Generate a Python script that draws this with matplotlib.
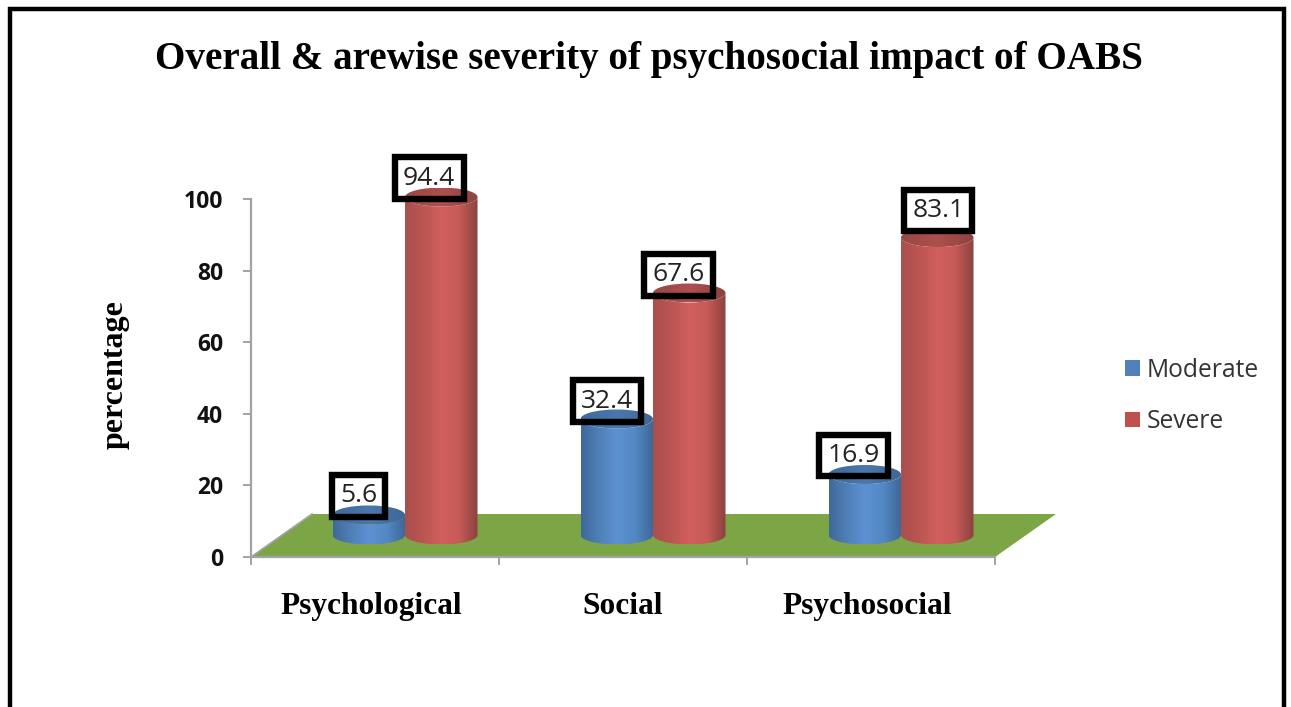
import numpy as np
import matplotlib
matplotlib.use("Agg")
import matplotlib.pyplot as plt
from matplotlib.colors import LinearSegmentedColormap
from matplotlib.patches import Patch, PathPatch, Polygon, Rectangle, Ellipse
from matplotlib.path import Path

categories = ["Psychological", "Social", "Psychosocial"]
moderate = [5.6, 32.4, 16.9]
severe = [94.4, 67.6, 83.1]
series_names = ["Moderate", "Severe"]
yticks = [0, 20, 40, 60, 80, 100]
title = "Overall & arewise severity of psychosocial impact of OABS"
ylabel = "percentage"

W, H = 1291, 707
fig = plt.figure(figsize=(W / 100, H / 100), dpi=100, facecolor="white")
ax = fig.add_axes([251 / W, 1 - 557 / H, 744 / W, 358 / H])
ax.set_xlim(-0.5, 2.5)
ax.set_ylim(0, 100)
ax.patch.set_visible(False)

PXX = 3 / 744   # data units per pixel
PXY = 100 / 358

GREY = "#a3a3a3"
for s in ("top", "right"):
    ax.spines[s].set_visible(False)
for s in ("left", "bottom"):
    ax.spines[s].set_color(GREY)
    ax.spines[s].set_linewidth(1.6)
ax.set_yticks(yticks)
ax.set_xticks([-0.5, 0.5, 1.5, 2.5])
ax.set_xticklabels([])
ax.tick_params(axis="both", color=GREY, width=1.4, length=6)
ax.tick_params(axis="y", pad=14)
for lab in ax.get_yticklabels():
    lab.set(fontfamily="Open Sans", fontweight="bold", fontsize=16.5, color="#111111")

for i, c in enumerate(categories):
    ax.annotate(c, (i, 0), xytext=(-3 if i != 1 else 0, -57 * 0.72), textcoords="offset points",
                ha="center", va="baseline", fontfamily="Liberation Serif",
                fontweight="bold", fontsize=22.6, color="black")

# floor
dx, dy = 61 * PXX, 43 * PXY
ax.add_patch(Polygon([(-0.5, 0), (2.5, 0), (2.5 + dx, dy), (-0.5 + dx, dy)], closed=True,
                     facecolor="#7ca646", edgecolor="none", clip_on=False, zorder=1))
ax.plot([-0.5, -0.5 + dx], [0, dy], color=GREY, lw=1.2, clip_on=False, zorder=1.1)

# cylinders
bar_w = 72.5 * PXX
shift = 30 * PXX
base = 22 * PXY
ry = 9.5 * PXY
blue = LinearSegmentedColormap.from_list("b", ["#41699a", "#4f80b8", "#5d92d2", "#5288c4", "#3f6694"])
red = LinearSegmentedColormap.from_list("r", ["#a94f4d", "#bb5553", "#d2605d", "#c65a57", "#8a4240"])
blue_top = LinearSegmentedColormap.from_list("bt", ["#3f6999", "#4a77ad", "#3d6796"])
red_top = LinearSegmentedColormap.from_list("rt", ["#984745", "#ad504e", "#8d4240"])
grad = np.linspace(0, 1, 128)[None, :]


def cylinder(xc, val, cmap, cmap_top, z):
    xl, xr = xc - bar_w / 2, xc + bar_w / 2
    y0, y1 = base, base + val
    t = np.linspace(np.pi, 2 * np.pi, 60)
    ex, ey = np.cos(t) * bar_w / 2, np.sin(t) * ry
    verts = np.vstack([np.c_[xc + ex, y0 + ey], np.c_[xc + ex[::-1], y1 + ey[::-1]]])
    body = PathPatch(Path(np.vstack([verts, verts[:1]])), transform=ax.transData)
    im = ax.imshow(grad, cmap=cmap, extent=[xl, xr, y0 - ry, y1], aspect="auto", zorder=z)
    im.set_clip_box(fig.bbox)
    im.set_clip_path(body)
    top = Ellipse((xc, y1), bar_w, 2 * ry, transform=ax.transData)
    it = ax.imshow(grad, cmap=cmap_top, extent=[xl, xr, y1 - ry, y1 + ry], aspect="auto", zorder=z + 0.1)
    it.set_clip_box(fig.bbox)
    it.set_clip_path(top)


for i in range(3):
    cylinder(i + shift - bar_w / 2, moderate[i], blue, blue_top, 2 + i)
    cylinder(i + shift + bar_w / 2, severe[i], red, red_top, 2.5 + i)
ax.set_xlim(-0.5, 2.5)
ax.set_ylim(0, 100)

# data labels
off_m = [(-10, 19), (-10, 18), (-11, 19)]
off_s = [(-12, 19), (-11, 18), (1, 27)]
for i in range(3):
    for vals, off, sign in ((moderate, off_m, -1), (severe, off_s, 1)):
        ax.annotate(f"{vals[i]:.1f}", (i + shift + sign * bar_w / 2, base + vals[i]),
                    xytext=(off[i][0] * 0.72, off[i][1] * 0.72), textcoords="offset points",
                    ha="center", va="center", fontfamily="Open Sans", fontsize=19, color="#222222",
                    zorder=20, annotation_clip=False,
                    bbox=dict(boxstyle="square,pad=0.31", facecolor="none", edgecolor="black", linewidth=4.6))

ax.set_ylabel(ylabel, fontfamily="Liberation Serif", fontweight="bold", fontsize=23)
ax.yaxis.set_label_coords((130 - 251) / 744, (557 - 375) / 358)

fig.text(649 / W, 1 - 59 / H, title, ha="center", va="center", fontfamily="Liberation Serif",
         fontweight="bold", fontsize=28.2, color="black")

handles = [Patch(facecolor="#4f81bd", edgecolor="none"), Patch(facecolor="#c0504d", edgecolor="none")]
fig.legend(handles, series_names, loc="center left", bbox_to_anchor=(1125 / W, 1 - 396 / H), frameon=False,
           prop={"family": "Open Sans", "size": 17.7}, handlelength=0.6, handleheight=0.6,
           handletextpad=0.28, labelspacing=1.08, labelcolor="#333333", borderpad=0, borderaxespad=0)

# outer frame
fig.add_artist(Rectangle((10 / W, -0.02), 1274 / W, 1.02 - 9 / H, transform=fig.transFigure,
                         facecolor="none", edgecolor="black", linewidth=3.2))

fig.savefig("out.png", dpi=100)
